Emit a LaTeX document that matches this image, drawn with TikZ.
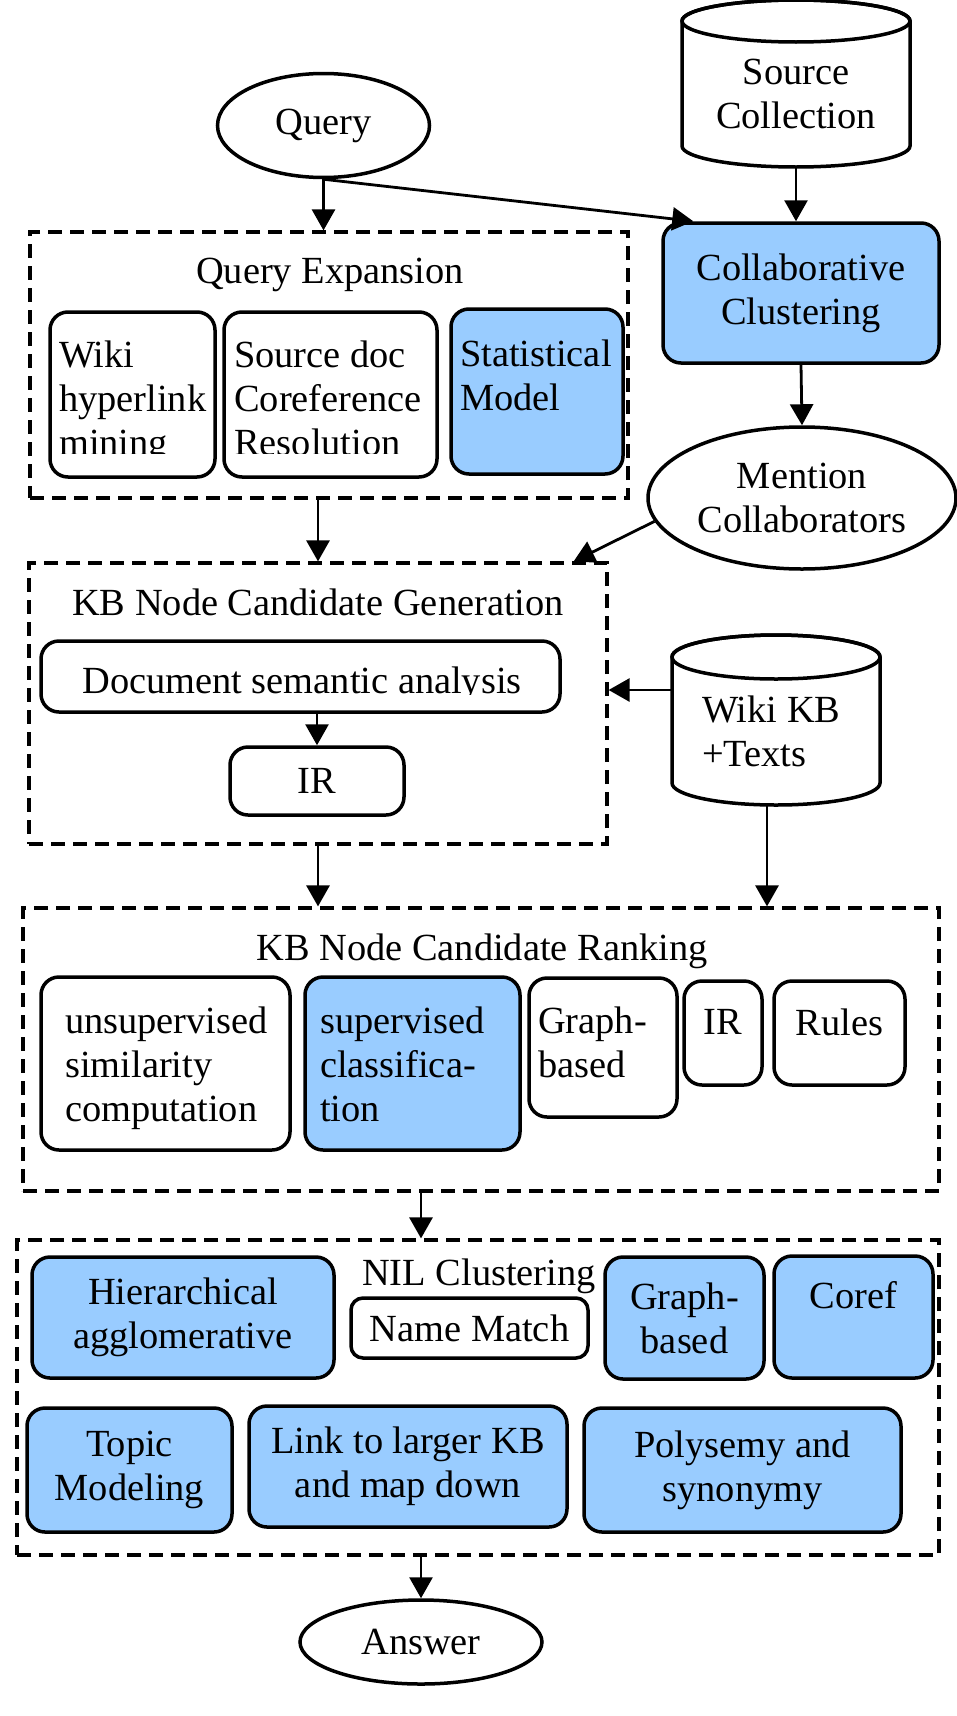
\documentclass[tikz,border=0pt]{standalone}
\usepackage{fontspec}
\setmainfont{Liberation Serif}
\usetikzlibrary{arrows.meta,shapes.geometric}
\definecolor{boxblue}{HTML}{99CCFF}
\begin{document}
\begin{tikzpicture}[x=1pt,y=-1pt,
  every node/.style={font=\fontsize{38.4pt}{44pt}\selectfont},
  sz/.style 2 args={minimum width=#1pt, minimum height=#2pt},
  box/.style={draw, line width=3.5pt, rounded corners=18pt, fill=white, inner sep=0pt, align=center},
  bbox/.style={box, fill=boxblue},
  grp/.style={draw, line width=3.2pt, dash pattern=on 14pt off 8pt, inner sep=0pt},
  ell/.style={draw, ellipse, line width=3.5pt, fill=white, inner sep=0pt, align=center},
  txt/.style={inner sep=0pt},
  cyl/.style={line width=3.5pt},
  arr/.style={line width=2.8pt, -{Triangle[length=21pt,width=23pt]}}
]
\fill[white] (0,0) rectangle (956,1716);
\useasboundingbox (0,0) rectangle (956,1716);

% dashed groups
\node[grp, sz={598}{266}] (qe) at (329,365) {};
\node[grp, sz={578}{281}] (gen) at (318,703.5) {};
\node[grp, sz={916}{283}] (rank) at (481,1049.5) {};
\node[grp, sz={922}{315}] (nil) at (478,1397.5) {};

% group titles
\node[txt, anchor=base] (qeT) at (330,283) {Query Expansion};
\node[txt, anchor=base] (genT) at (318,615) {KB Node Candidate Generation};
\node[txt, anchor=base] (rankT) at (482,960) {KB Node Candidate Ranking};
\node[txt, anchor=base] (nilT) at (479,1285) {NIL Clustering};

% query
\node[ell, sz={212}{104}] (query) at (323.5,125.5) {Query};

% source collection cylinder
\draw[cyl, fill=white] (682,21) -- (682,146) arc[start angle=180, end angle=0, x radius=114, y radius=21] -- (910,21) arc[start angle=0, end angle=-180, x radius=114, y radius=21] -- cycle;
\draw[cyl] (796,21) ellipse[x radius=114, y radius=21];
\node[txt, sz={228}{167}] (src) at (796,83.5) {};
\node[txt, anchor=base, align=center] (srcT) at (796,128) {Source\\Collection};

% wiki KB cylinder
\draw[cyl, fill=white] (672,657) -- (672,783) arc[start angle=180, end angle=0, x radius=104, y radius=22] -- (880,657) arc[start angle=0, end angle=-180, x radius=104, y radius=22] -- cycle;
\draw[cyl] (776,657) ellipse[x radius=104, y radius=22];
\node[txt, sz={208}{170}] (wkb) at (776,720) {};
\node[txt, anchor=base west, align=left] (wkbT) at (702,766) {Wiki KB\\+Texts};

% collaborative clustering and mention collaborators
\node[bbox, sz={276}{140}] (cc) at (801,293) {Collaborative\\Clustering};
\node[ell, sz={308}{142}] (men) at (802,498) {Mention\\Collaborators};

% query expansion boxes
\node[box, sz={165}{165}] (wikiB) at (132.5,394.5) {};
\node[box, sz={213}{165}] (srcdoc) at (330.5,394.5) {};
\node[bbox, sz={172}{165}] (stat) at (537,391.5) {};
\begin{scope}
\clip (40,300) rectangle (630,453);
\node[txt, anchor=base west, align=left] (wikiT) at (59,455) {Wiki\\hyperlink\\mining};
\node[txt, anchor=base west, align=left] (srcdocT) at (234,455) {Source doc\\Coreference\\Resolution};
\end{scope}
\node[txt, anchor=base west, align=left] (statT) at (460,410) {Statistical\\Model};

% candidate generation
\node[box, sz={519}{71}] (doc) at (300.5,676.5) {};
\begin{scope}
\clip (41,641) rectangle (560,694);
\node[txt, anchor=base] (docT) at (302,693) {Document semantic analysis};
\end{scope}
\node[box, sz={174}{68}] (ir1) at (317,781) {IR};

% candidate ranking
\node[box, sz={249}{173}] (unsup) at (165.5,1063.5) {};
\node[txt, anchor=base west, align=left] (unsupT) at (65,1121) {unsupervised\\similarity\\computation};
\node[bbox, sz={215}{173}] (sup) at (412.5,1063.5) {};
\node[txt, anchor=base west, align=left] (supT) at (320,1121) {supervised\\classifica-\\tion};
\node[box, sz={148}{139}] (graph1) at (603,1047.5) {};
\node[txt, anchor=base west, align=left] (graph1T) at (538,1077) {Graph-\\based};
\node[box, sz={78}{104}, text depth=22pt] (ir2) at (723,1033) {IR};
\node[box, sz={131}{104}, text depth=22pt] (rules) at (839.5,1033) {Rules};

% NIL clustering
\node[bbox, sz={302}{121}] (hier) at (183,1317.5) {Hierarchical\\agglomerative};
\node[box, sz={237}{60}, rounded corners=12pt] (nm) at (469.5,1328) {Name Match};
\node[bbox, sz={159}{122}] (graph2) at (684.5,1318) {Graph-\\based};
\node[bbox, sz={159}{122}, text depth=44pt] (coref) at (853.5,1317) {Coref};
\node[bbox, sz={205}{124}] (topic) at (129.5,1470) {Topic\\Modeling};
\node[bbox, sz={318}{121}] (link) at (408,1466.5) {Link to larger KB\\and map down};
\node[bbox, sz={317}{124}] (poly) at (742.5,1470) {Polysemy and\\synonymy};

% answer
\node[ell, sz={242}{84}] (ans) at (421,1642) {Answer};

% connectors
\coordinate (wkbL) at (672,690);
\coordinate (wkbB) at (767,805);
\draw[arr] (query.south) -- (query.south |- qe.north);
\draw[arr] (query.south) -- ([xshift=32pt]cc.north west);
\draw[arr] (src.south) -- (src.south |- cc.north);
\draw[arr] (cc.south) -- (men.north);
\draw[arr] (men.189) -- ([xshift=-35pt]gen.north east);
\draw[arr] (gen.north |- qe.south) -- (gen.north);
\draw[arr] (ir1.north |- doc.south) -- (ir1.north);
\draw[arr] (wkbL) -- (wkbL -| gen.east);
\draw[arr] (gen.south) -- (gen.south |- rank.north);
\draw[arr] (wkbB) -- (wkbB |- rank.north);
\draw[arr] (ans.north |- rank.south) -- (ans.north |- nil.north);
\draw[arr] (ans.north |- nil.south) -- (ans.north);
\end{tikzpicture}
\end{document}
